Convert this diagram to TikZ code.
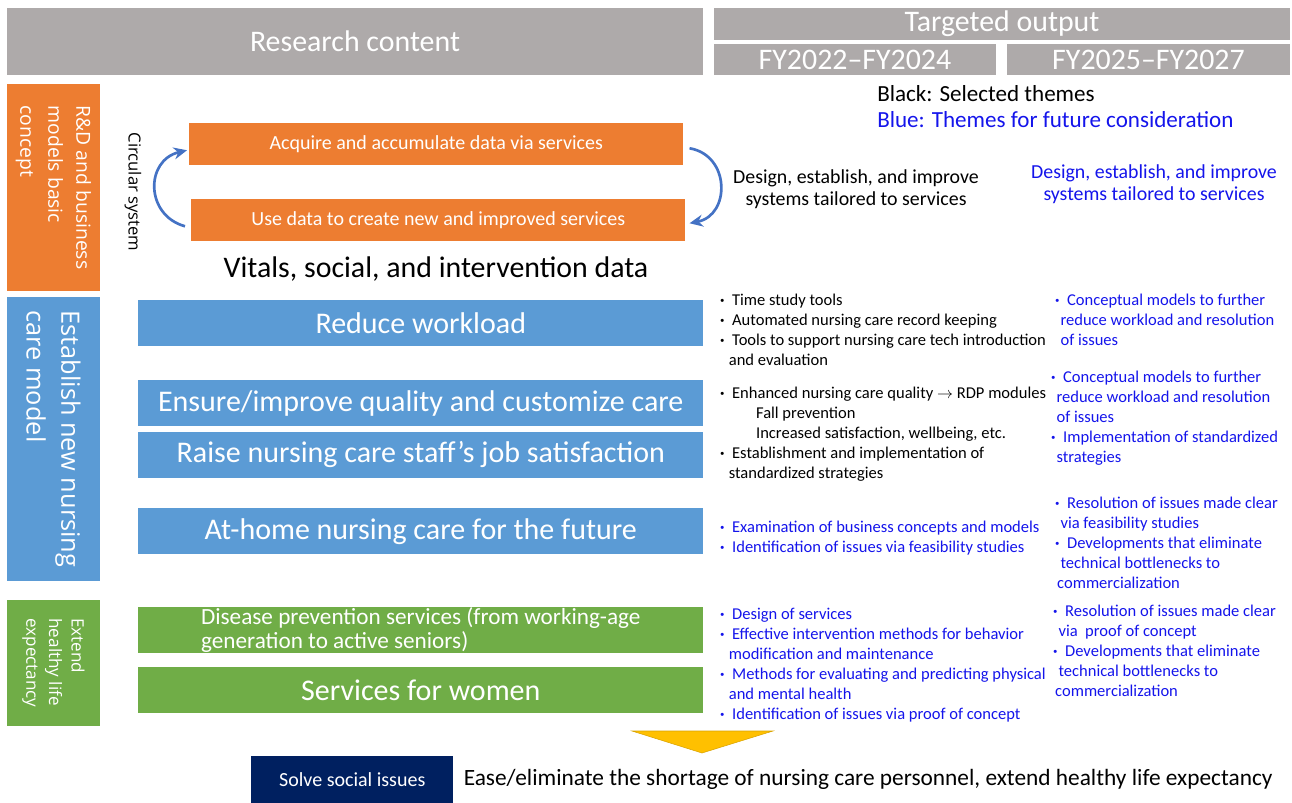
\documentclass[tikz,border=0pt]{standalone}
\usepackage{fontspec}
\setmainfont{Carlito}
\newfontfamily\sidefont{Open Sans}
\usetikzlibrary{positioning, arrows.meta, calc}

\definecolor{hdrgray}{RGB}{174,170,170}
\definecolor{rdorange}{RGB}{237,125,49}
\definecolor{nurseblue}{RGB}{91,155,213}
\definecolor{lifegreen}{RGB}{112,173,71}
\definecolor{issuenavy}{RGB}{0,32,96}
\definecolor{cyclearrow}{RGB}{68,114,196}
\definecolor{futureblue}{RGB}{20,20,235}
\definecolor{outgold}{RGB}{255,192,0}

\newcommand{\bu}{\makebox[0.9em][l]{\,\textbf{·}}}

\begin{document}
\begin{tikzpicture}[x=0.75pt, y=-0.75pt, >=Stealth,
  hdr/.style={fill=hdrgray, text=white, inner sep=0, font=\fontsize{22.4}{26}\selectfont},
  side/.style={rotate=-90, text=white, inner sep=0, minimum height=69.75pt, align=left},
  bar/.style={text=white, inner sep=0, minimum width=423.75pt, minimum height=34.5pt, anchor=north west, font=\fontsize{22.5}{26}\selectfont},
  loopbox/.style={fill=rdorange, text=white, inner sep=0, minimum width=370.5pt, minimum height=31.5pt, anchor=north west, font=\fontsize{15}{17}\selectfont},
  lst/.style={anchor=north west, align=left, inner sep=0, font=\fontsize{12.4}{15}\selectfont},
  cyc/.style={draw=cyclearrow, line width=2pt, -{Stealth[length=10pt, width=9pt]}}]

  \useasboundingbox (0,0) rectangle (1292,803);

  % header row
  \node[hdr, minimum width=522pt, minimum height=50.25pt] (research) at (355,41.5) {Research content};
  \node[hdr, minimum width=432pt, minimum height=24pt] (target) at (1002,24) {Targeted output};
  \node[hdr, minimum width=211.5pt, minimum height=23.25pt] (fyA) at (855,59.5) {FY2022–FY2024};
  \node[hdr, minimum width=212.25pt, minimum height=23.25pt] (fyB) at (1148.5,59.5) {FY2025–FY2027};

  % legend
  \node[anchor=west, inner sep=0, font=\fontsize{17.3}{20}\selectfont] (legblack) at (877,94) {Black: Selected themes};
  \node[anchor=west, inner sep=0, text=futureblue, font=\fontsize{17.3}{20}\selectfont] (legblue) at (877,120) {Blue: Themes for future consideration};

  % side labels
  \node[side, fill=rdorange, minimum width=155.25pt, font=\sidefont\fontsize{14.5}{21}\selectfont] (rdside) at (53.5,187.5) {R\&D and business\\models basic\\concept};
  \node[side, fill=nurseblue, minimum width=213pt, font=\sidefont\fontsize{19}{26}\selectfont] (nurseside) at (53.5,439) {Establish new nursing\\care model};
  \node[side, fill=lifegreen, minimum width=94.5pt, font=\sidefont\fontsize{12.8}{17}\selectfont] (lifeside) at (53.5,663) {Extend\\healthy life\\expectancy};

  % circular system
  \node[rotate=-90, inner sep=0, font=\sidefont\fontsize{12.5}{15}\selectfont] (circ) at (133,192) {Circular system};
  \node[loopbox] (acquire) at (189,123) {Acquire and accumulate data via services};
  \node[loopbox] (usedata) at (191,199) {Use data to create new and improved services};
  \draw[cyc] ($(usedata.west)+(-6,6)$) .. controls +(-40,-11) and +(-42,10) .. ($(acquire.west)+(-2,6)$);
  \draw[cyc] ($(acquire.east)+(6,4)$) .. controls +(41,7) and +(41,-8) .. ($(usedata.east)+(4,3)$);
  \node[inner sep=0, font=\fontsize{22.4}{26}\selectfont] (vitals) at (436,269) {Vitals, social, and intervention data};
  \node[align=center, inner sep=0, font=\fontsize{14.9}{16.5}\selectfont] (sysnow) at (856,189) {Design, establish, and improve\\systems tailored to services};
  \node[align=center, inner sep=0, text=futureblue, font=\fontsize{14.9}{16.5}\selectfont] (sysnext) at (1154,184) {Design, establish, and improve\\systems tailored to services};

  % nursing care model
  \node[bar, fill=nurseblue] (reduce) at (138,300) {Reduce workload};
  \node[bar, fill=nurseblue] (ensure) at (138,380) {Ensure/improve quality and customize care};
  \node[bar, fill=nurseblue, below=3.75pt of ensure] (raise) {Raise nursing care staff’s job satisfaction};
  \node[bar, fill=nurseblue] (athome) at (138,508) {At-home nursing care for the future};

  % healthy life expectancy
  \node[bar, fill=lifegreen, align=left, font=\fontsize{17.4}{18}\selectfont] (disease) at (138,607) {Disease prevention services (from working-age\\generation to active seniors)};
  \node[bar, fill=lifegreen, below=9.75pt of disease] (women) {Services for women};

  % FY2022-FY2024 outputs
  \node[lst] (midA) at (717,294) {\bu Time study tools\\
    \bu Automated nursing care record keeping\\
    \bu Tools to support nursing care tech introduction\\
    \hspace*{0.7em}and evaluation};
  \node[lst] (midB) at (717,387) {\bu Enhanced nursing care quality \ensuremath{\rightarrow} RDP modules\\
    \hspace*{2.35em}Fall prevention\\
    \hspace*{2.35em}Increased satisfaction, wellbeing, etc.\\
    \bu Establishment and implementation of\\
    \hspace*{0.7em}standardized strategies};
  \node[lst, text=futureblue] (midC) at (717,521) {\bu Examination of business concepts and models\\
    \bu Identification of issues via feasibility studies};
  \node[lst, text=futureblue] (midD) at (717,608) {\bu Design of services\\
    \bu Effective intervention methods for behavior\\
    \hspace*{0.7em}modification and maintenance\\
    \bu Methods for evaluating and predicting physical\\
    \hspace*{0.7em}and mental health\\
    \bu Identification of issues via proof of concept};

  % FY2025-FY2027 outputs
  \node[lst, text=futureblue] (rightA) at (1052,294) {\bu Conceptual models to further\\
    \hspace*{0.5em}reduce workload and resolution\\
    \hspace*{0.5em}of issues};
  \node[lst, text=futureblue] (rightB) at (1048,371) {\bu Conceptual models to further\\
    \hspace*{0.5em}reduce workload and resolution\\
    \hspace*{0.5em}of issues\\
    \bu Implementation of standardized\\
    \hspace*{0.5em}strategies};
  \node[lst, text=futureblue] (rightC) at (1052,497) {\bu Resolution of issues made clear\\
    \hspace*{0.5em}via feasibility studies\\
    \bu Developments that eliminate\\
    \hspace*{0.5em}technical bottlenecks to\\
    \hspace*{0.3em}commercialization};
  \node[lst, text=futureblue] (rightD) at (1050,605) {\bu Resolution of issues made clear\\
    \hspace*{0.5em}via\ \ proof of concept\\
    \bu Developments that eliminate\\
    \hspace*{0.5em}technical bottlenecks to\\
    \hspace*{0.3em}commercialization};

  % social issues
  \fill[outgold, draw=outgold!85!black] (632,731) -- (773,731) -- (702,753) -- cycle;
  \node[fill=issuenavy, text=white, inner sep=0, minimum width=151.5pt, minimum height=35.25pt, anchor=north west, font=\fontsize{15}{17}\selectfont] (solve) at (251,756) {Solve social issues};
  \node[right=7.5pt of solve, inner sep=0, font=\fontsize{17.5}{20}\selectfont] (ease) {Ease/eliminate the shortage of nursing care personnel, extend healthy life expectancy};

\end{tikzpicture}
\end{document}
